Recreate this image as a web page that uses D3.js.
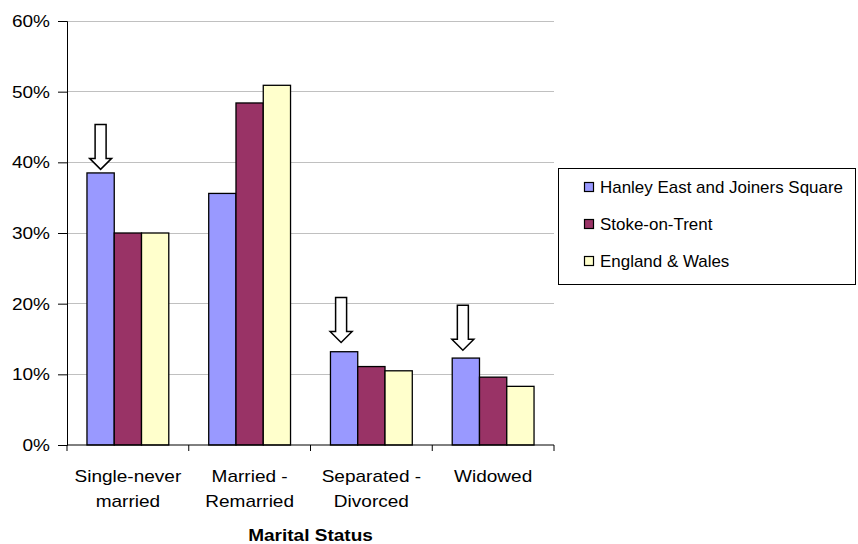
<!DOCTYPE html>
<html>
<head>
<meta charset="utf-8">
<script src="https://cdn.jsdelivr.net/npm/d3@7"></script>
<style>
  html, body { margin: 0; padding: 0; background: #fff; }
  svg { display: block; }
  text { font-family: "Liberation Sans", Arial, sans-serif; fill: #000; }
</style>
</head>
<body>
<svg id="chart" width="858" height="544"></svg>
<script>
// ---- Data ----
const categories = [["Single-never", "married"], ["Married -", "Remarried"], ["Separated -", "Divorced"], ["Widowed"]];
const seriesNames = ["Hanley East and Joiners Square", "Stoke-on-Trent", "England & Wales"];
const hanley = [38.5, 35.6, 13.2, 12.3];
const stoke = [30.0, 48.4, 11.1, 9.6];
const englandWales = [30.0, 50.9, 10.5, 8.3];
const yTicks = [0, 10, 20, 30, 40, 50, 60];
const arrowTips = [39.0, null, 14.5, 13.4]; // value (%) at which the highlight arrow tip points
const xTitle = "Marital Status";

const seriesValues = [hanley, stoke, englandWales];
const colors = ["#9999FF", "#993366", "#FFFFCC"];

// ---- Layout ----
const svg = d3.select("#chart");
const plot = { left: 67, right: 554, top: 21, bottom: 445 };

const catIdx = categories.map((d, i) => i);
const x = d3.scaleBand().domain(catIdx).range([plot.left, plot.right]).padding(0);
const bw = x.bandwidth();
const groupW = bw * 0.672;
const xSub = d3.scaleBand().domain(d3.range(seriesNames.length))
  .range([(bw - groupW) / 2, (bw + groupW) / 2]).padding(0);
const y = d3.scaleLinear().domain([0, 60]).range([plot.bottom, plot.top]);

function stretchedText(g, tx, ty, str, anchor, weight, size, sx) {
  return g.append("text")
    .attr("transform", `translate(${tx},${ty}) scale(${sx || 1.12},1)`)
    .attr("text-anchor", anchor)
    .attr("font-size", size || 17)
    .attr("font-weight", weight || "normal")
    .text(str);
}

// Gridlines
svg.append("g").selectAll("line").data(yTicks.filter(t => t > 0)).join("line")
  .attr("x1", plot.left).attr("x2", plot.right)
  .attr("y1", d => y(d)).attr("y2", d => y(d))
  .attr("stroke", "#C0C0C0").attr("stroke-width", 1)
  .attr("shape-rendering", "crispEdges");

// Bars
const groups = svg.append("g").selectAll("g").data(catIdx).join("g")
  .attr("transform", d => `translate(${x(d)},0)`);
groups.selectAll("rect")
  .data(ci => seriesValues.map((s, si) => ({ si, v: s[ci] })))
  .join("rect")
  .attr("x", d => xSub(d.si))
  .attr("width", xSub.bandwidth())
  .attr("y", d => y(d.v))
  .attr("height", d => y(0) - y(d.v))
  .attr("fill", d => colors[d.si])
  .attr("stroke", "#000")
  .attr("stroke-width", 1.3);

// Y axis
const yAxis = d3.axisLeft(y).tickValues(yTicks).tickSize(9).tickFormat(() => "");
const ya = svg.append("g").attr("transform", `translate(${plot.left},0)`).call(yAxis);
ya.select(".domain").attr("stroke", "#000");
ya.selectAll(".tick line").attr("stroke", "#000");
yTicks.forEach(t => {
  stretchedText(svg, 50, y(t) + 6, t + "%", "end");
});

// X axis
const xEdges = d3.range(categories.length + 1);
svg.append("line")
  .attr("x1", plot.left).attr("x2", plot.right)
  .attr("y1", plot.bottom).attr("y2", plot.bottom)
  .attr("stroke", "#000");
svg.append("g").selectAll("line").data(xEdges).join("line")
  .attr("x1", i => plot.left + i * bw).attr("x2", i => plot.left + i * bw)
  .attr("y1", plot.bottom).attr("y2", plot.bottom + 6)
  .attr("stroke", "#000");

categories.forEach((lines, i) => {
  const cx = x(i) + bw / 2;
  lines.forEach((ln, li) => stretchedText(svg, cx, 482 + li * 24.5, ln, "middle"));
});

// Axis title
stretchedText(svg, (plot.left + plot.right) / 2, 541, xTitle, "middle", "bold");

// Highlight arrows (above Hanley bars)
const shaftW = 11, headW = 22, headH = 11, arrowH = 45;
arrowTips.forEach((tip, ci) => {
  if (tip == null) return;
  const cx = x(ci) + xSub(0) + xSub.bandwidth() / 2 - (ci > 0 ? 3 : 0);
  const ty = y(tip);
  const top = ty - arrowH, hs = ty - headH;
  const pts = [
    [cx - shaftW / 2, top], [cx + shaftW / 2, top], [cx + shaftW / 2, hs],
    [cx + headW / 2, hs], [cx, ty], [cx - headW / 2, hs], [cx - shaftW / 2, hs]
  ];
  svg.append("path")
    .attr("d", d3.line()(pts) + "Z")
    .attr("fill", "#fff").attr("stroke", "#000").attr("stroke-width", 1.5)
    .attr("stroke-linejoin", "miter");
});

// Legend
const lg = svg.append("g");
lg.append("rect").attr("x", 558.5).attr("y", 168.5).attr("width", 297).attr("height", 116)
  .attr("fill", "#fff").attr("stroke", "#000").attr("stroke-width", 1);
seriesNames.forEach((name, i) => {
  const by = 193 + i * 37;
  lg.append("rect").attr("x", 584.5).attr("y", by - 10.5).attr("width", 9).attr("height", 9)
    .attr("fill", colors[i]).attr("stroke", "#000").attr("stroke-width", 1.2);
  stretchedText(lg, 600, by, name, "start", "normal", 16, 1.06);
});
</script>
</body>
</html>
